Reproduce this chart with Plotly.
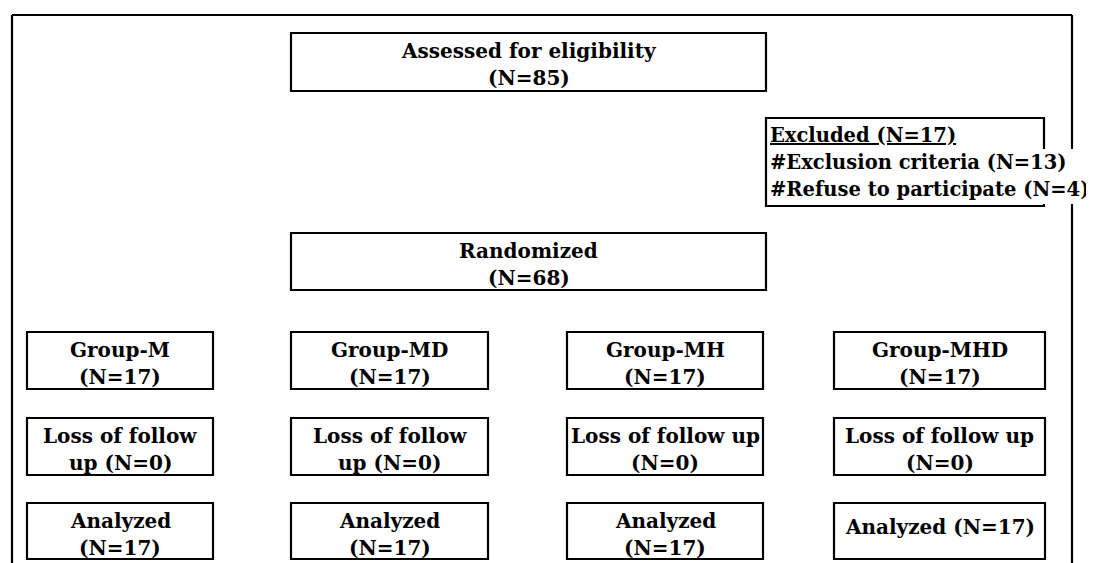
import plotly.graph_objects as go

# ---------------- data ----------------
assessed_n = 85
excluded_n = 17
exclusion_criteria_n = 13
refused_n = 4
randomized_n = 68
groups = ["Group-M", "Group-MD", "Group-MH", "Group-MHD"]
allocated_n = [17, 17, 17, 17]
lost_n = [0, 0, 0, 0]
analyzed_n = [17, 17, 17, 17]

# ---------------- layout (pixel geometry) ----------------
W, H = 1094, 563
OFF = 8  # page body margin
FONT = "DejaVu Serif"
FS = 20
FS_EXC = 19.5
LW = 2.2

col_x0 = [27, 291, 567, 834]
col_x1 = [213, 488, 763, 1045]
row_y0 = [332, 418, 503]
row_y1 = [389, 475, 559]

fig = go.Figure()
shapes = []
annos = []


def rect(x0, y0, x1, y1, fill="rgba(0,0,0,0)", lw=LW, color="black"):
    shapes.append(dict(type="rect", xref="x", yref="y", x0=x0, y0=y0, x1=x1, y1=y1,
                       line=dict(color=color, width=lw), fillcolor=fill, layer="above"))


def line(x0, y0, x1, y1, lw=LW):
    shapes.append(dict(type="line", xref="x", yref="y", x0=x0, y0=y0, x1=x1, y1=y1,
                       line=dict(color="black", width=lw), layer="above"))


def text(x, y, s, xanchor="center", size=FS):
    annos.append(dict(x=x, y=y, xref="x", yref="y", text="<b>" + s + "</b>",
                      showarrow=False, xanchor=xanchor, yanchor="middle",
                      font=dict(family=FONT, size=size, color="black")))


def box_lines(x0, y0, x1, y1, lines):
    cx = (x0 + x1) / 2
    if len(lines) == 1:
        text(cx, (y0 + y1) / 2 - 4, lines[0])
    else:
        text(cx, y0 + 18, lines[0])
        text(cx, y0 + 45, lines[1])


# outer frame
line(12, 15, 1072, 15)
line(12, 15, 12, 575)
line(1072, 15, 1072, 575)

# assessed
rect(291, 33, 766, 91)
box_lines(291, 33, 766, 91, ["Assessed for eligibility", f"(N={assessed_n})"])

# excluded
rect(766, 118, 1044, 206)
shapes.append(dict(type="rect", xref="x", yref="y", x0=1040, y0=149, x1=1100, y1=204,
                   line=dict(width=0), fillcolor="white", layer="above"))
text(768, 135, f"<u>Excluded (N={excluded_n})</u>", xanchor="left", size=FS_EXC)
text(768, 162, f"#Exclusion criteria (N={exclusion_criteria_n})", xanchor="left", size=FS_EXC)
text(768, 189, f"#Refuse to participate (N={refused_n})", xanchor="left", size=FS_EXC)

# randomized
rect(291, 233, 766, 290)
box_lines(291, 233, 766, 290, ["Randomized", f"(N={randomized_n})"])

lost_split = [True, True, False, False]
for i, g in enumerate(groups):
    x0, x1 = col_x0[i], col_x1[i]
    rect(x0, row_y0[0], x1, row_y1[0])
    box_lines(x0, row_y0[0], x1, row_y1[0], [g, f"(N={allocated_n[i]})"])
    rect(x0, row_y0[1], x1, row_y1[1])
    if lost_split[i]:
        l2 = ["Loss of follow", f"up (N={lost_n[i]})"]
    else:
        l2 = ["Loss of follow up", f"(N={lost_n[i]})"]
    box_lines(x0, row_y0[1], x1, row_y1[1], l2)
    rect(x0, row_y0[2], x1, row_y1[2])
    if i < 3:
        l3 = ["Analyzed", f"(N={analyzed_n[i]})"]
    else:
        l3 = [f"Analyzed (N={analyzed_n[i]})"]
    box_lines(x0, row_y0[2], x1, row_y1[2], l3)

fig.update_layout(
    width=W - OFF, height=H - OFF, margin=dict(l=0, r=0, t=0, b=0),
    paper_bgcolor="white", plot_bgcolor="white",
    xaxis=dict(range=[OFF, W], visible=False, fixedrange=True),
    yaxis=dict(range=[H, OFF], visible=False, fixedrange=True),
    shapes=shapes, annotations=annos, showlegend=False,
)
fig.write_html("out.html", config={"displayModeBar": False})
